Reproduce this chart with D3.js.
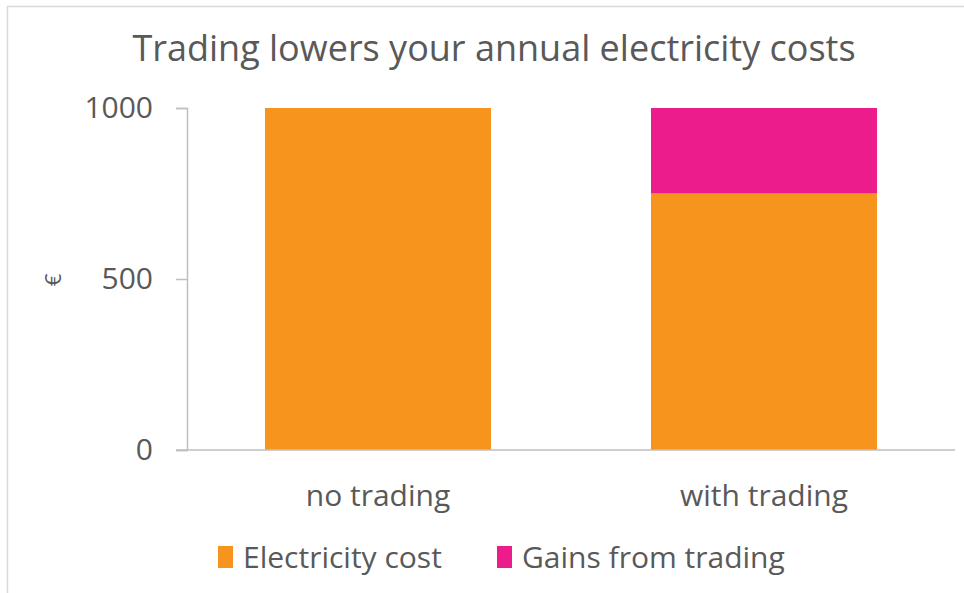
<html>
  <head>
    <meta charset="utf-8">
    <title>Trading chart</title>
    <script src="https://d3js.org/d3.v7.min.js"></script>
    <style>
      body { margin: 0; background: white; }
      text { font-family: "Open Sans", "Noto Sans", sans-serif; fill: #595959; }
    </style>
  </head>
  <body>

    <svg id="grafico" width="964" height="593"></svg>

    <script>
    // data
    let categories = ["no trading", "with trading"];
    let seriesNames = ["Electricity cost", "Gains from trading"];
    let electricityCost = [1000, 750];
    let gainsFromTrading = [0, 250];
    let yTicks = [0, 500, 1000];
    let seriesColors = ["#F7941D", "#EC1C8C"];

    let width = 964;
    let height = 593;
    let svg = d3.select("#grafico");

    // frame of the original picture
    svg.append("line").attr("x1",7).attr("x2",964).attr("y1",6.5).attr("y2",6.5)
      .attr("stroke","#d9d9d9").attr("stroke-width",1.5);
    svg.append("line").attr("x1",7.5).attr("x2",7.5).attr("y1",6).attr("y2",593)
      .attr("stroke","#d9d9d9").attr("stroke-width",1.5);

    // title
    svg.append("text")
      .attr("x",494).attr("y",61)
      .attr("text-anchor","middle")
      .style("font-size","36px")
      .text("Trading lowers your annual electricity costs");

    let x = d3.scaleBand().domain(categories).range([187, 955]).paddingInner(0.4145).paddingOuter(0.202);
    let y = d3.scaleLinear().domain([0, 1000]).range([450, 108]);

    // stacked table
    let table = categories.map((c,i) => ({cat: c, "Electricity cost": electricityCost[i], "Gains from trading": gainsFromTrading[i]}));
    let stacked = d3.stack().keys(seriesNames)(table);

    svg.append("g").selectAll("g")
      .data(stacked)
      .enter()
      .append("g")
      .attr("fill",(d,i)=>seriesColors[i])
      .selectAll("rect")
      .data(d=>d)
      .enter()
      .append("rect")
      .attr("x",d=>x(d.data.cat))
      .attr("width",x.bandwidth())
      .attr("y",d=>y(d[1]))
      .attr("height",d=>y(d[0])-y(d[1]));

    // y axis
    let yAxis = svg.append("g")
      .attr("transform","translate(187,0)")
      .call(d3.axisLeft(y).tickValues(yTicks).tickFormat(d3.format("d")).tickSize(11).tickPadding(23));
    yAxis.select(".domain").attr("stroke","#bfbfbf").attr("stroke-width",1.5);
    yAxis.selectAll(".tick line").attr("stroke","#bfbfbf").attr("stroke-width",1.5);
    yAxis.selectAll("text").style("font-size","30px").attr("fill","#595959");

    // baseline
    svg.append("line").attr("x1",176).attr("x2",955).attr("y1",y(0)).attr("y2",y(0))
      .attr("stroke","#bfbfbf").attr("stroke-width",1.5);

    // category labels
    svg.append("g").selectAll("text")
      .data(categories)
      .enter()
      .append("text")
      .attr("x",d=>x(d)+x.bandwidth()/2)
      .attr("y",506)
      .attr("text-anchor","middle")
      .style("font-size","30px")
      .text(d=>d);

    // axis title
    svg.append("text")
      .attr("transform","translate(53,280) rotate(-90)")
      .attr("text-anchor","middle")
      .attr("dy","0.35em")
      .style("font-size","22px")
      .text("€");

    // legend
    let legendX = [218, 497];
    let legend = svg.append("g").selectAll("g")
      .data(seriesNames)
      .enter()
      .append("g")
      .attr("transform",(d,i)=>"translate("+legendX[i]+",546)");
    legend.append("rect").attr("width",15).attr("height",22).attr("fill",(d,i)=>seriesColors[i]);
    legend.append("text").attr("x",25).attr("y",11).attr("dy","0.35em")
      .style("font-size","30px").text(d=>d);
    </script>

  </body>
</html>
